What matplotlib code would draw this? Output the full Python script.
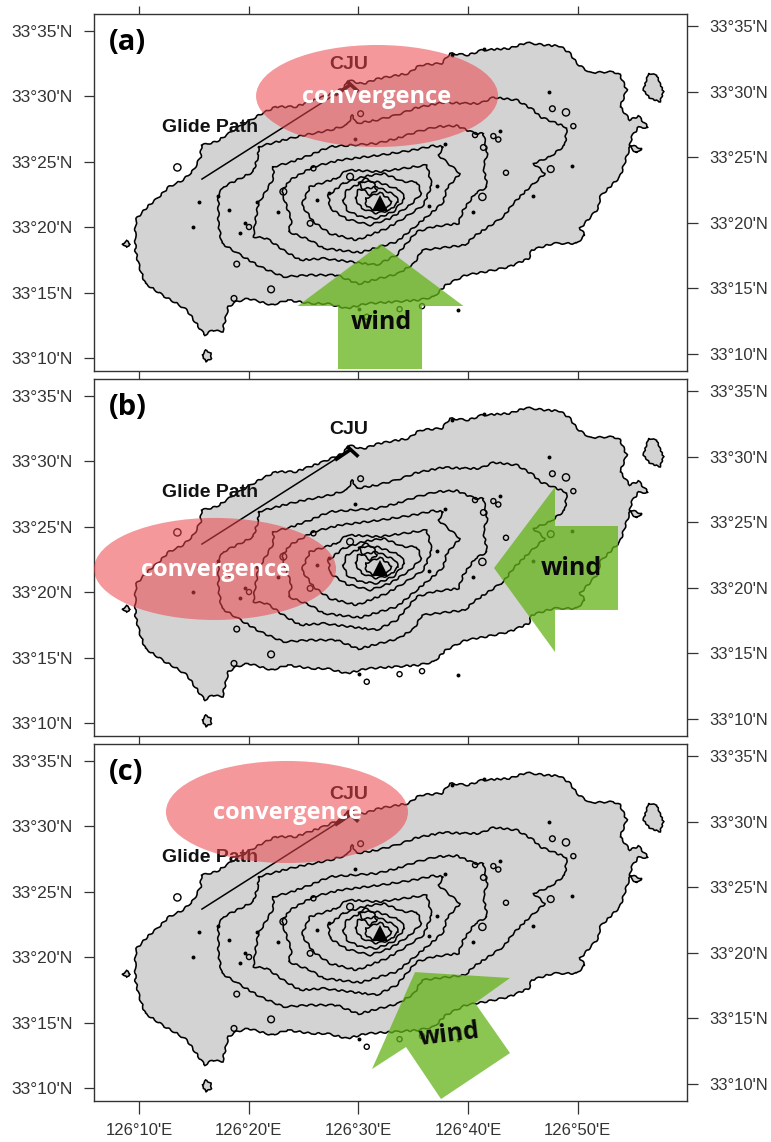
import matplotlib
matplotlib.use("Agg")
import matplotlib.pyplot as plt
from matplotlib.patches import Ellipse, Polygon

W, H = 771, 1142

# all positions below are arc minutes: lon = 126deg + x', lat = 33deg + y'
coast = [(9.67, 20.02), (9.78, 20.65), (10.76, 21.54), (11.66, 22.18), (12.74, 23.07), (14.0, 23.58),
         (14.97, 24.34), (15.62, 25.36), (15.69, 26.25), (17.06, 26.51), (18.86, 27.52), (21.1, 28.62),
         (22.47, 29.18), (24.27, 29.18), (26.79, 29.94), (28.6, 30.58), (29.14, 31.2), (30.4, 30.91),
         (31.84, 31.34), (34.55, 31.72), (35.61, 32.36), (37.59, 32.49), (38.35, 33.25), (40.02, 33.12),
         (41.24, 33.5), (43.73, 33.63), (45.34, 34.07), (46.97, 33.89), (48.38, 33.81), (49.29, 33.25),
         (49.9, 32.49), (51.11, 31.78), (53.24, 31.85), (53.85, 31.6), (54.46, 30.45), (53.85, 29.18),
         (54.76, 28.16), (55.52, 28.47), (56.43, 27.6), (55.52, 27.6), (54.91, 26.89), (54.76, 26.25),
         (55.82, 26.0), (55.37, 25.62), (54.76, 26.13), (53.85, 23.84), (52.02, 22.31), (51.87, 21.42),
         (50.2, 19.89), (50.66, 19.38), (49.9, 18.75), (47.77, 18.75), (45.79, 18.24), (45.53, 17.6),
         (43.73, 16.96), (41.57, 16.58), (39.77, 16.33), (37.96, 15.56), (36.88, 14.67), (35.44, 14.42),
         (33.28, 14.29), (30.76, 14.16), (28.96, 13.78), (27.15, 14.16), (25.71, 14.16), (23.55, 14.42),
         (22.11, 14.04), (19.95, 14.55), (18.86, 14.29), (18.14, 13.91), (17.6, 12.0), (16.7, 12.13),
         (15.98, 11.75), (15.44, 12.38), (14.36, 13.66), (13.46, 14.16), (12.38, 14.67), (10.57, 15.69),
         (10.03, 16.96), (9.67, 18.24), (9.67, 19.25)]

contour_a = [(20.88, 26.13), (24.38, 26.89), (27.42, 27.4), (28.94, 27.78), (29.48, 28.55), (29.79, 27.91),
             (31.67, 28.16), (33.5, 28.55), (35.32, 29.11), (37.75, 29.51), (39.57, 29.44), (41.08, 29.43),
             (42.3, 29.89), (44.43, 29.69), (45.95, 28.93), (46.55, 28.42), (48.99, 27.6), (48.83, 26.25),
             (47.47, 25.36), (45.95, 24.85), (47.01, 24.09), (45.34, 22.82), (44.12, 21.8), (43.21, 20.78),
             (40.48, 19.25), (39.72, 18.62), (35.8, 18.24), (35.08, 17.22), (33.64, 16.45), (30.0, 15.65),
             (28.03, 16.33), (25.6, 16.33), (23.16, 16.2), (21.04, 16.97), (19.52, 17.73), (17.54, 18.75),
             (17.24, 20.28), (17.24, 22.44), (17.69, 23.07), (20.43, 24.22), (20.88, 25.49)]
contour_b = [(22.25, 24.6), (23.77, 24.93), (25.59, 25.49), (27.42, 26.13), (29.54, 26.26), (31.67, 26.38),
             (33.5, 26.76), (35.32, 27.27), (37.14, 27.66), (38.97, 27.73), (40.63, 27.14), (41.39, 27.14),
             (41.75, 25.62), (41.39, 24.6), (41.75, 23.07), (40.63, 22.56), (39.56, 21.29), (39.11, 20.27),
             (36.83, 20.02), (35.31, 19.64), (34.4, 18.75), (33.49, 17.86), (31.67, 17.1), (29.24, 17.35),
             (26.81, 17.6), (24.68, 17.48), (23.16, 18.24), (21.64, 19.13), (20.43, 19.26), (20.58, 20.28),
             (20.88, 21.8), (21.64, 22.82), (22.25, 23.71)]
contour_c = [(25.9, 24.6), (28.33, 25.11), (31.98, 25.49), (35.01, 25.87), (36.84, 26.2), (37.75, 26.13),
             (37.29, 25.49), (39.27, 24.09), (38.05, 22.95), (37.75, 21.93), (37.14, 21.42), (35.32, 20.15),
             (33.5, 18.88), (30.15, 18.05), (26.81, 18.37), (25.6, 19.0), (23.62, 19.64), (23.92, 20.53),
             (23.47, 21.55), (23.01, 22.7), (23.77, 23.59)]
contour_d = [(28.02, 23.71), (28.94, 24.35), (31.98, 24.22), (36.23, 24.73), (36.69, 23.2), (35.93, 21.67),
             (34.1, 20.66), (32.58, 19.89), (29.85, 19.0), (27.42, 19.5), (25.9, 20.4), (24.83, 21.68),
             (25.59, 23.08)]
contour_e = [(28.63, 23.33), (30.46, 23.84), (32.28, 24.09), (34.1, 23.46), (35.32, 23.46), (35.77, 22.57),
             (34.71, 21.67), (32.89, 20.66), (31.06, 20.15), (28.94, 20.6), (27.42, 21.42), (27.27, 22.44)]
contour_f = [(28.63, 22.06), (28.94, 22.82), (30.46, 23.46), (31.67, 23.46), (33.8, 22.82), (34.25, 22.18),
             (33.19, 21.17), (31.67, 20.66), (30.15, 20.78), (28.94, 21.29)]
contour_g = [(29.7, 22.18), (30.0, 22.82), (31.67, 23.07), (33.34, 22.44), (33.65, 21.93), (32.89, 21.29),
             (31.67, 21.04), (30.3, 21.42)]
contour_h = [(30.61, 22.18), (31.98, 22.64), (33.04, 21.98), (32.58, 21.42), (31.52, 21.29), (30.76, 21.55)]
contour_top = [(30.0, 23.4), (30.61, 23.71), (31.37, 23.4), (31.67, 22.82), (31.06, 22.44), (30.46, 22.82)]
contours = [contour_a, contour_b, contour_c, contour_d, contour_e, contour_f, contour_g, contour_h, contour_top]

udo = [(56.43, 31.72), (57.19, 31.6), (57.8, 30.32), (57.49, 29.56), (56.58, 29.82), (55.97, 30.45)]
gapa = [(15.75, 10.2), (16.1, 10.6), (16.55, 10.35), (16.6, 9.95), (16.1, 9.75)]
biyang = [(8.5, 18.7), (8.9, 18.95), (9.2, 18.7), (8.9, 18.45)]
islets = [udo, gapa, biyang]

rings = [(48.92, 28.75), (47.68, 29.03), (47.53, 24.42), (49.59, 27.7), (41.3, 22.3), (43.45, 24.14),
         (42.3, 26.94), (42.75, 26.68), (41.39, 26.07), (40.63, 27.02), (13.5, 24.55), (23.16, 22.7),
         (18.91, 17.17), (22.04, 15.24), (18.66, 14.55), (20.03, 20.0), (25.9, 24.48), (25.6, 20.28),
         (29.24, 23.84), (30.2, 28.65), (35.8, 13.96), (33.75, 13.73), (30.76, 13.15)]
ring_sizes = [8, 5, 7, 4, 8, 4, 4, 4, 5, 4, 8, 7, 5, 7, 5, 4, 4, 5, 7, 5, 4, 4, 4]
dots = [(47.37, 30.3), (49.44, 24.68), (45.95, 22.39), (40.45, 21.11), (37.19, 23.15), (36.46, 21.62),
        (37.89, 26.33), (42.9, 27.35), (41.48, 33.56), (38.5, 33.12), (14.96, 19.97), (15.5, 21.93),
        (18.21, 21.3), (19.67, 20.33), (19.21, 19.57), (22.71, 21.17), (26.26, 22.06), (27.36, 22.62),
        (17.24, 22.36), (20.73, 21.93), (29.7, 26.69), (39.05, 13.66), (30.04, 13.78)]

peak = (31.97, 21.83)
glide_lon = [15.74, 29.31]
glide_lat = [23.66, 30.89]
runway_1 = [(27.87, 30.07), (29.31, 30.89)]
runway_2 = [(28.94, 31.14), (30.0, 30.33)]

panel_names = ["(a)", "(b)", "(c)"]
panel_tops = [14, 379, 744]
ellipse_centers = [(31.7, 30.0), (16.93, 21.76), (23.49, 31.07)]
ellipse_size = (22.06, 7.79)
convergence_pos = [(31.7, 29.9), (17.0, 21.7), (23.5, 31.0)]
wind_pos = [(32.06, 12.75), (49.38, 21.83), (38.26, 14.05)]
wind_rot = [0, 0, 7]
arrows = [
    [(32.01, 18.7), (39.58, 13.97), (35.8, 13.97), (35.8, 9.16), (28.14, 9.16), (28.14, 13.97), (24.45, 13.97)],
    [(42.36, 21.83), (47.92, 28.02), (47.92, 25.04), (53.66, 25.04), (53.66, 18.63), (47.92, 18.63), (47.92, 15.42)],
    [(35.16, 18.85), (43.82, 18.4), (40.63, 16.49), (43.82, 12.67), (37.53, 9.16), (34.34, 13.13), (31.24, 11.45)],
]

lon_ticks = [10, 20, 30, 40, 50]
lon_labels = ["126°10'E", "126°20'E", "126°30'E", "126°40'E", "126°50'E"]
lat_ticks = [10, 15, 20, 25, 30, 35]
lat_labels = ["33°10'N", "33°15'N", "33°20'N", "33°25'N", "33°30'N", "33°35'N"]

XLIM = (5.9, 59.95)
YLIM = (9.01, 36.26)
TICK = "#333333"
SKETCH = (0.8, 10, 2)
BOLD_FONT = "Open Sans"


def draw_map(ax):
    land = Polygon(coast, closed=True, fc="#d3d3d3", ec="black", lw=1.15, zorder=1)
    land.set_sketch_params(*SKETCH)
    ax.add_patch(land)
    for loop in contours:
        line = Polygon(loop, closed=True, fill=False, ec="black", lw=1.15, zorder=1.2)
        line.set_sketch_params(*SKETCH)
        ax.add_patch(line)
    for loop in islets:
        isle = Polygon(loop, closed=True, fc="#d3d3d3", ec="black", lw=1.15, zorder=1.2)
        isle.set_sketch_params(0.5, 6, 2)
        ax.add_patch(isle)
    ax.scatter([p[0] for p in rings], [p[1] for p in rings], s=[v * 3.4 for v in ring_sizes],
               facecolors="none", edgecolors="black", linewidths=1.0, zorder=1.3)
    ax.scatter([p[0] for p in dots], [p[1] for p in dots], s=8, color="black", lw=0, zorder=1.3)
    ax.plot(peak[0], peak[1], marker="^", ms=11, color="black", mew=0, zorder=1.4)
    ax.plot(glide_lon, glide_lat, color="black", lw=1.1, zorder=1.5)
    for seg in (runway_1, runway_2):
        ax.plot([seg[0][0], seg[1][0]], [seg[0][1], seg[1][1]], color="black", lw=2.6,
                solid_capstyle="butt", zorder=1.5)
    ax.text(29.14, 32.44, "CJU", family="Liberation Sans", weight="bold", fontsize=14,
            ha="center", va="center", color="#111111", zorder=2)
    ax.text(16.47, 27.56, "Glide Path", family="Liberation Sans", weight="bold", fontsize=14,
            ha="center", va="center", color="#111111", zorder=2)


def setup_axes(i, top):
    bottom = top + 357
    ax = fig.add_axes([94 / W, 1 - bottom / H, 593 / W, 357 / H])
    ax.set_xlim(*XLIM)
    ax.set_ylim(*YLIM)
    for s in ax.spines.values():
        s.set_color(TICK)
        s.set_linewidth(1.0)
    ax.set_yticks(lat_ticks, lat_labels, family="Liberation Sans", fontsize=12.5, color=TICK)
    ax.set_xticks(lon_ticks, lon_labels if i == 2 else [""] * 5, family="Liberation Sans", fontsize=12, color=TICK)
    ax.tick_params(axis="y", direction="out", length=7.2, width=0.9, color=TICK, pad=8)
    ax.tick_params(axis="x", direction="out", length=9.2 if i == 2 else 5.5, width=0.9, color=TICK, pad=6.5,
                   top=(i == 0))

    # the right hand scale sits a few pixels higher in the original
    right = ax.twinx()
    right.set_ylim(YLIM[0] - 0.34, YLIM[1] - 0.34)
    right.set_yticks(lat_ticks, lat_labels, family="Liberation Sans", fontsize=12, color=TICK)
    right.tick_params(axis="y", direction="out", length=8, width=0.9, color=TICK, pad=8)
    for s in right.spines.values():
        s.set_visible(False)
    return ax


fig = plt.figure(figsize=(W / 100, H / 100), dpi=100)

for i, name in enumerate(panel_names):
    ax = setup_axes(i, panel_tops[i])
    draw_map(ax)
    ax.add_patch(Ellipse(ellipse_centers[i], ellipse_size[0], ellipse_size[1], fc="#eb444b", ec="none",
                         alpha=0.55, zorder=3))
    ax.add_patch(Polygon(arrows[i], closed=True, fc="#64b31a", ec="none", alpha=0.75, zorder=3))
    ax.text(7.27, 34.12, name, family=BOLD_FONT, weight="bold", fontsize=21, ha="left", va="center", zorder=4)
    ax.text(convergence_pos[i][0], convergence_pos[i][1], "convergence", family=BOLD_FONT, weight="bold",
            fontsize=17, color="white", ha="center", va="center", zorder=4)
    ax.text(wind_pos[i][0], wind_pos[i][1], "wind", family=BOLD_FONT, weight="bold", fontsize=18,
            color="#0a0a0a", ha="center", va="center", rotation=wind_rot[i], zorder=4)

fig.savefig("out.png", dpi=100)
